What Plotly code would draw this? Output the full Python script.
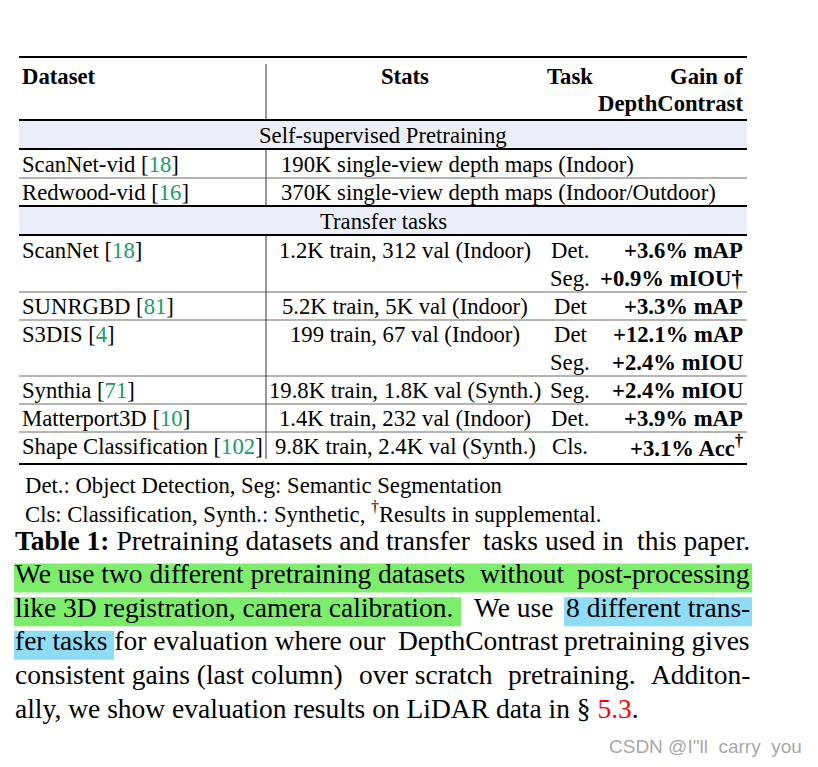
import plotly.graph_objects as go

W, H = 818, 767
PAGE_PAD = 8  # default body margin of the html page
SERIF = "Liberation Serif, Times New Roman, serif"
SANS = "Liberation Sans, Arial, sans-serif"
CITE = "#1a9a6a"
LAVENDER = "#eceef9"
GREEN = "#7ded6c"
BLUE = "#8fdcf8"

BODY = 22.7
CAP = 27.5

# ---- table content ----
header_cols = ["Dataset", "Stats", "Task", "Gain of", "DepthContrast"]
section_titles = ["Self-supervised Pretraining", "Transfer tasks"]

pretrain_names = ["ScanNet-vid", "Redwood-vid"]
pretrain_refs = ["18", "16"]
pretrain_stats = [
    "190K single-view depth maps (Indoor)",
    "370K single-view depth maps (Indoor/Outdoor)",
]

transfer_names = ["ScanNet", "SUNRGBD", "S3DIS", "Synthia", "Matterport3D", "Shape Classification"]
transfer_refs = ["18", "81", "4", "71", "10", "102"]
transfer_stats = [
    "1.2K train, 312 val (Indoor)",
    "5.2K train, 5K val (Indoor)",
    "199 train, 67 val (Indoor)",
    "19.8K train, 1.8K val (Synth.)",
    "1.4K train, 232 val (Indoor)",
    "9.8K train, 2.4K val (Synth.)",
]
transfer_tasks = [["Det.", "Seg."], ["Det"], ["Det", "Seg."], ["Seg."], ["Det."], ["Cls."]]
transfer_gains = [
    ["+3.6% mAP", "+0.9% mIOU†"],
    ["+3.3% mAP"],
    ["+12.1% mAP", "+2.4% mIOU"],
    ["+2.4% mIOU"],
    ["+3.9% mAP"],
    ["+3.1% Acc<sup>†</sup>"],
]

footnotes = [
    "Det.: Object Detection, Seg: Semantic Segmentation",
    "Cls: Classification, Synth.: Synthetic, <sup>†</sup>Results in supplemental.",
]

# justified caption lines split in chunks: first left, last right, others centred
caption_lines = [
    ["<b>Table 1:</b> Pretraining datasets and transfer", "tasks used in", "this paper."],
    ["We use two different pretraining datasets", "without", "post-processing"],
    ["like 3D registration, camera calibration.", "We use", "8 different trans-"],
    ["fer tasks for evaluation where our", "DepthContrast", "pretraining gives"],
    ["consistent gains (last column)", "over scratch", "pretraining.", "Additon-"],
    ["ally, we show evaluation results on LiDAR data in § <span style='color:#ff0000'>5.3</span>."],
]
caption_mid_x = [[553], [522], [514], [478], [426, 572], []]

watermark = "CSDN @I\"ll\u00a0\u00a0carry\u00a0\u00a0you"

# ---- layout constants ----
X_L, X_R = 19, 747
X_VLINE = 266
X_NAME = 21
X_STATS = 405
X_SPAN = 280
X_TASK = 570
X_GAIN = 744
TOP = 57
HEAD_BOTTOM = 120
ROW_H = 28
THICK_PAD = 1
BOTTOM_PAD = 4

fig = go.Figure()


def text(x, y, s, anchor="left", size=BODY, color="black", family=SERIF):
    fig.add_annotation(
        x=x, y=y, xref="x", yref="y", text=s, showarrow=False,
        xanchor=anchor, yanchor="middle", borderpad=0,
        font=dict(family=family, size=size, color=color),
    )


def hline(y, thick):
    fig.add_shape(
        type="line", x0=X_L, x1=X_R, y0=y, y1=y, layer="above",
        line=dict(color="black" if thick else "#6a6a6a", width=2 if thick else 1),
    )


def vline(y0, y1):
    fig.add_shape(
        type="line", x0=X_VLINE, x1=X_VLINE, y0=y0, y1=y1, layer="above",
        line=dict(color="#333333", width=1),
    )


def name_html(name, ref):
    return f"{name} [<span style='color:{CITE}'>{ref}</span>]"


# header
hline(TOP, True)
text(X_NAME, TOP + 19, f"<b>{header_cols[0]}</b>")
text(X_STATS, TOP + 19, f"<b>{header_cols[1]}</b>", anchor="center")
text(X_TASK, TOP + 19, f"<b>{header_cols[2]}</b>", anchor="center")
text(X_GAIN, TOP + 19, f"<b>{header_cols[3]}</b>", anchor="right")
text(X_GAIN, TOP + 46, f"<b>{header_cols[4]}</b>", anchor="right")
vline(TOP + 7, HEAD_BOTTOM)
hline(HEAD_BOTTOM, True)

y = HEAD_BOTTOM + THICK_PAD


def section(y, title):
    fig.add_shape(type="rect", x0=X_L, x1=X_R, y0=y - THICK_PAD, y1=y + ROW_H,
                  fillcolor=LAVENDER, line=dict(width=0), layer="below")
    text((X_L + X_R) / 2, y + ROW_H / 2 + 0.5, title, anchor="center")
    y += ROW_H
    hline(y, True)
    return y + THICK_PAD


# self-supervised pretraining
y = section(y, section_titles[0])
start = y
for i, (n, r, s) in enumerate(zip(pretrain_names, pretrain_refs, pretrain_stats)):
    c = y + ROW_H / 2 + 0.5
    text(X_NAME, c, name_html(n, r))
    text(X_SPAN, c, s)
    y += ROW_H
    if i < len(pretrain_names) - 1:
        hline(y, False)
vline(start, y)
hline(y, True)
y += THICK_PAD

# transfer tasks
y = section(y, section_titles[1])
start = y
for i, (n, r, s, tasks, gains) in enumerate(
        zip(transfer_names, transfer_refs, transfer_stats, transfer_tasks, transfer_gains)):
    c = y + ROW_H / 2 + 0.5
    text(X_NAME, c, name_html(n, r))
    text(X_STATS, c, s, anchor="center")
    for k, (t, g) in enumerate(zip(tasks, gains)):
        text(X_TASK, c + k * ROW_H, t, anchor="center")
        text(X_GAIN, c + k * ROW_H, f"<b>{g}</b>", anchor="right")
    y += ROW_H * len(tasks)
    if i < len(transfer_names) - 1:
        hline(y, False)
vline(start, y - 1)
y += BOTTOM_PAD
hline(y, True)

# footnotes
FOOT_Y = 485
for k, f in enumerate(footnotes):
    text(24, FOOT_Y + 27 * k, f)

# caption with highlights
CAP_Y = 540
CAP_STEP = 33.6
CAP_L, CAP_R = 14, 751
line_c = [CAP_Y + CAP_STEP * k for k in range(len(caption_lines))]
highlights = [
    (1, CAP_L, 752, GREEN),
    (2, CAP_L, 461, GREEN),
    (2, 564, 752, BLUE),
    (3, CAP_L, 114, BLUE),
]
for ln, x0, x1, col in highlights:
    fig.add_shape(type="rect", x0=x0, x1=x1, y0=line_c[ln] - 10, y1=line_c[ln] + 19,
                  fillcolor=col, line=dict(width=0), layer="below")

for k, chunks in enumerate(caption_lines):
    c = line_c[k]
    text(CAP_L, c, chunks[0], size=CAP)
    if len(chunks) > 1:
        for mx, chunk in zip(caption_mid_x[k], chunks[1:-1]):
            text(mx, c, chunk, anchor="center", size=CAP)
        text(CAP_R, c, chunks[-1], anchor="right", size=CAP)

text(803, 746, watermark, anchor="right", size=19, color="#a8a8a8", family=SANS)

# the page body keeps an 8px margin, so the axes start at 8 to keep pixel coords
fig.update_xaxes(range=[PAGE_PAD, W], visible=False, fixedrange=True)
fig.update_yaxes(range=[H, PAGE_PAD], visible=False, fixedrange=True)
fig.update_layout(
    width=W - PAGE_PAD, height=H - PAGE_PAD, margin=dict(l=0, r=0, t=0, b=0),
    paper_bgcolor="white", plot_bgcolor="white", showlegend=False,
)

fig.write_html("out.html")
